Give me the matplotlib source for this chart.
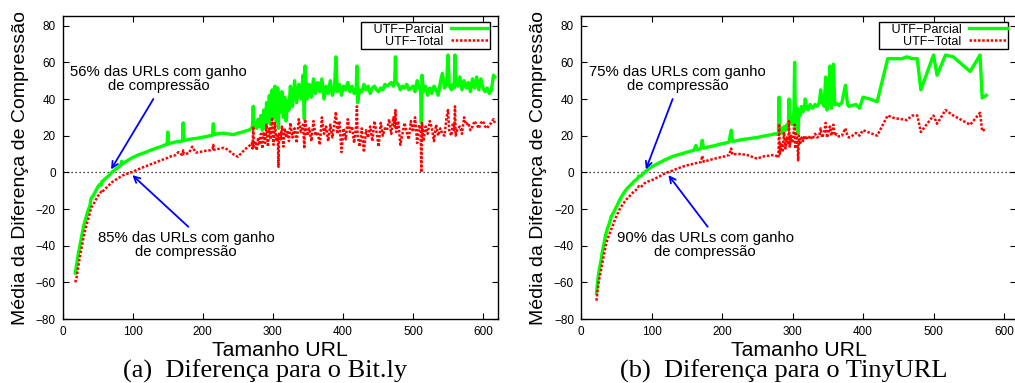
import matplotlib
matplotlib.use("Agg")
import matplotlib.pyplot as plt

plt.rcParams['font.family'] = ['Liberation Sans', 'DejaVu Sans']

# ---- (a) Bit.ly ----
bitly_x = [
    18, 20, 22, 25, 28, 30, 33, 36, 39, 40,
    41, 43, 46, 50, 53, 55, 56, 58, 62, 66,
    70, 75, 80, 83, 84, 85, 90, 95, 100, 105,
    110, 115, 120, 125, 130, 135, 140, 145, 149, 150,
    151, 155, 160, 165, 170, 171, 172, 173, 175, 180,
    185, 190, 195, 200, 205, 210, 214, 215, 216, 220,
    225, 230, 235, 240, 245, 250, 255, 260, 265, 268,
    270, 271, 272, 273, 275, 277, 279, 281, 283, 285,
    287, 289, 291, 293, 295, 297, 299, 301, 303, 305,
    307, 308, 309, 311, 313, 315, 317, 319, 321, 323,
    325, 328, 331, 334, 337, 340, 343, 345, 346, 349,
    352, 355, 358, 361, 364, 367, 370, 373, 376, 379,
    382, 385, 388, 390, 392, 395, 398, 401, 404, 407,
    410, 413, 416, 419, 420, 421, 424, 427, 430, 433,
    436, 439, 442, 445, 448, 451, 454, 457, 460, 463,
    466, 469, 472, 474, 475, 476, 479, 482, 485, 488,
    491, 494, 497, 500, 503, 506, 509, 511, 512, 513,
    515, 518, 521, 524, 527, 530, 533, 536, 539, 542,
    545, 548, 550, 552, 555, 557, 559, 560, 561, 564,
    567, 570, 573, 576, 579, 582, 585, 588, 591, 594,
    597, 600, 603, 606, 609, 612, 615, 617,
]
bitly_parcial = [
    -55, -50, -45, -39, -33, -29, -25, -21, -18, -15,
    -14, -13, -11, -8, -6.5, -7, -5, -4.5, -3, -1.8,
    0, 1.5, 3, 4, 6, 4.5, 5.8, 7, 8.1, 9,
    9.8, 10.5, 11.2, 12, 12.7, 13.4, 14, 14.8, 15.3, 22,
    15.6, 16, 16.5, 16.8, 17, 17.2, 27, 17.3, 17.5, 18,
    18.3, 18.5, 18.8, 19.2, 19.5, 20, 20.3, 26.5, 20.5, 21,
    21.2, 21.4, 21, 20.8, 20.6, 21.4, 21.8, 22.4, 23, 23.5,
    24, 26, 36, 25, 27, 24, 29, 25, 31, 23,
    34, 24, 38, 27, 42, 26, 45, 30, 47, 28,
    46, 24, 43, 33, 44, 30, 41, 28, 39, 34,
    47, 36, 50, 38, 48, 40, 53, 29, 58, 40,
    48, 41, 51, 43, 49, 44, 51, 40, 47, 43,
    50, 42, 46, 63, 44, 48, 42, 47, 45, 49,
    44, 47, 43, 46, 58, 38, 45, 44, 48, 45,
    47, 43, 46, 47, 45, 44, 46, 45, 48, 47,
    48, 49, 47, 50, 63, 49, 48, 45, 47, 46,
    48, 45, 46, 47, 44, 50, 46, 45, 27, 53,
    44, 47, 42, 46, 43, 47, 45, 42, 49, 54,
    46, 48, 64, 47, 45, 48, 46, 64, 49, 47,
    52, 45, 50, 46, 49, 44, 51, 46, 52, 45,
    51, 46, 44, 46, 43, 45, 53, 52,
]
bitly_total = [
    -60, -57, -52, -45, -39, -35, -30, -26, -22, -20,
    -19, -18, -16, -13, -12, -10.5, -11, -10, -8.5, -7,
    -5.5, -4.2, -3, -2.3, -2, -1.8, -1, -0.3, 0.3, 1.2,
    2, 2.8, 3.5, 4.3, 5, 5.8, 6.5, 7.2, 7.8, 8,
    8.2, 8.8, 9.2, 11, 9.6, 10, 12, 9.8, 10, 10.5,
    14, 10.8, 11, 11.5, 11.8, 12, 13, 15, 12.3, 12.6,
    13, 13.4, 12.5, 11, 9.5, 8.5, 10.5, 12.5, 14, 15,
    16, 13, 25, 14, 17, 12, 19, 15, 21, 13,
    22, 16, 26, 14, 24, 18, 30, 15, 27, 17,
    20, 3, 22, 18, 25, 14, 24, 19, 22, 17,
    27, 19, 24, 16, 29, 22, 26, 13, 29, 20,
    24, 17, 28, 20, 22, 15, 30, 21, 25, 17,
    26, 19, 27, 33, 21, 28, 11, 24, 18, 29,
    22, 25, 16, 26, 36, 20, 14, 24, 11, 23,
    19, 25, 17, 28, 22, 14, 27, 20, 24, 23,
    29, 21, 30, 25, 34, 22, 28, 15, 21, 27,
    22, 18, 28, 22, 30, 16, 26, 22, 0, 27,
    17, 25, 21, 28, 24, 17, 26, 20, 24, 21,
    20, 30, 34, 22, 20, 27, 23, 36, 20, 24,
    25, 21, 30, 26, 27, 23, 25, 28, 26, 24,
    27, 28, 25, 24, 26, 27, 29, 27,
]

# ---- (b) TinyURL ----
tiny_x = [
    22, 23, 25, 28, 30, 33, 35, 38, 40, 43,
    46, 50, 55, 60, 65, 70, 75, 80, 82, 85,
    90, 95, 100, 105, 110, 115, 120, 125, 130, 135,
    140, 145, 150, 155, 160, 163, 165, 170, 172, 174,
    180, 185, 190, 195, 200, 205, 210, 213, 215, 220,
    225, 230, 235, 240, 245, 250, 255, 260, 265, 270,
    274, 277, 280, 281, 282, 284, 286, 288, 290, 292,
    294, 295, 296, 298, 300, 302, 303, 304, 305, 307,
    308, 309, 311, 313, 315, 317, 318, 320, 322, 325,
    328, 330, 332, 335, 338, 340, 342, 345, 347, 349,
    351, 353, 355, 357, 358, 360, 363, 366, 370, 375,
    378, 380, 385, 390, 395, 400, 410, 420, 435, 445,
    455, 462, 470, 477, 482, 500, 505, 517, 528, 552,
    566, 569, 575,
]
tiny_parcial = [
    -66, -62, -55, -49, -44, -38, -34, -30, -28, -24,
    -22, -19, -15, -11.6, -9, -7, -5, -3.5, -2, -2,
    0, 1.6, 3, 4, 5, 6, 7, 7.8, 8.7, 9.3,
    9.8, 10.4, 11, 11.5, 12, 14.7, 12.3, 13, 17.5, 13.2,
    13.8, 14.2, 14.6, 15.2, 15.6, 16, 16.5, 23, 16.8, 17.2,
    17.6, 18, 18.2, 18.5, 18.8, 19, 19.5, 19.8, 20.2, 20.5,
    21, 20.8, 21, 41, 22, 24, 21, 25, 23, 26,
    24, 40, 27, 30, 26, 33, 60, 32, 25, 35,
    21, 34, 31, 36, 33, 35, 40, 35.6, 34, 37,
    35, 35.6, 37, 36, 38, 45, 38, 36, 52, 34,
    40, 58, 35, 45, 59, 37, 37.5, 36.5, 38, 47.5,
    37, 36, 36.5, 37, 35, 41, 40, 38.5, 62, 62,
    62, 63, 62, 62, 45, 64, 53, 64, 63, 55,
    64, 40.5, 42,
]
tiny_total = [
    -70, -66, -60, -54, -50, -44, -40, -36, -34, -31,
    -28, -24, -20, -17, -14.5, -12.5, -10.5, -9, -7.5, -8,
    -6, -5, -4.4, -3.4, -2.5, -1.4, -0.4, 0.3, 1, 1.8,
    2.5, 3.2, 3.8, 4.2, 4.7, 5, 5.2, 5.6, 9, 5.8,
    6.5, 7, 7.5, 8, 8.4, 8.8, 9.5, 13, 9.6, 10,
    10, 9.8, 9.5, 9, 8, 7.5, 8.2, 8.8, 9, 9.3,
    9.5, 9, 8, 26.5, 10, 16, 11, 22, 13, 19,
    15, 28, 14, 20, 16, 24, 26, 13, 21, 17,
    6.5, 20, 16, 19, 17, 20, 18, 19, 18, 20,
    18, 19.5, 21, 19, 20, 24, 19, 22, 27, 19,
    22, 25, 20, 23, 26, 20, 21, 19.5, 20, 24,
    20, 19, 20, 21.5, 20, 23, 21.5, 20, 31, 29.5,
    29, 28.5, 31, 31, 22, 31, 26.5, 34, 31, 26,
    32.5, 22.5, 24,
]

# textos: (percentual, centro do texto, cauda da seta, ponta da seta)
panels = [
    (bitly_x, bitly_parcial, bitly_total, 621,
     ("56%", (137, 51), (129.4, 40), (69, 1.6)),
     ("85%", (176, -39.7), (179.4, -29.7), (99.4, -1.5))),
    (tiny_x, tiny_parcial, tiny_total, 617,
     ("75%", (137, 51), (130, 40), (92, 1.6)),
     ("90%", (176, -39.7), (179.7, -29.7), (124, -1.5))),
]
captions = ["(a)  Diferença para o Bit.ly", "(b)  Diferença para o TinyURL"]

W, H = 1015, 383
fig = plt.figure(figsize=(W / 100, H / 100), dpi=100)
lefts = [62.7, 581]

for i, (xs, yp, yt, xmax, note1, note2) in enumerate(panels):
    ax = fig.add_axes([lefts[i] / W, 1 - 319 / H, 435 / W, 303.3 / H])
    ax.plot(xs, yp, color='#00ff00', lw=2.4, label='   UTF\u2212Parcial')
    ax.plot(xs, yt, color='#ff0000', lw=1.8, ls=(0, (1, 0.7)), label='UTF\u2212Total')
    ax.axhline(0, color='black', lw=0.9, ls=(0, (1, 2.2)), zorder=0)
    ax.set_xlim(0, xmax)
    ax.set_ylim(-80, 85.45)
    ax.set_xticks(range(0, 601, 100))
    ax.set_yticks(range(-80, 81, 20))
    ax.tick_params(direction='in', top=True, right=True, length=4, width=0.8,
                   labelsize=8.5, pad=5)
    for sp in ax.spines.values():
        sp.set_linewidth(1.0)

    leg = ax.legend(loc='upper right', bbox_to_anchor=(0.982, 0.979), borderaxespad=0,
                    markerfirst=False, fancybox=False, edgecolor='black', framealpha=1,
                    fontsize=9, handlelength=3.0, labelspacing=0.0, borderpad=0.12,
                    handletextpad=0.6)
    leg.get_frame().set_linewidth(1.0)

    arrow = dict(arrowstyle='->', color='blue', lw=1.3, mutation_scale=11, shrinkA=0, shrinkB=0)
    for pct, center, tail, head in (note1, note2):
        ax.annotate('', xy=head, xytext=tail, arrowprops=arrow)
        ax.text(center[0], center[1], pct + " das URLs com ganho\nde compressão",
                ha='center', va='center', fontsize=10.7, linespacing=1.0)

    cx = lefts[i] + 435 / 2
    fig.text(cx / W, 1 - 350 / H, "Tamanho URL", ha='center', va='center', fontsize=15.3)
    fig.text((lefts[i] - 42.5) / W, 1 - 168 / H, "Média da Diferença de Compressão",
             rotation=90, ha='center', va='center', fontsize=14)
    fig.text((cx - 15) / W, 1 - 371 / H, captions[i], ha='center', va='center',
             fontsize=19, family='Liberation Serif')

fig.savefig("out.png", dpi=100)
